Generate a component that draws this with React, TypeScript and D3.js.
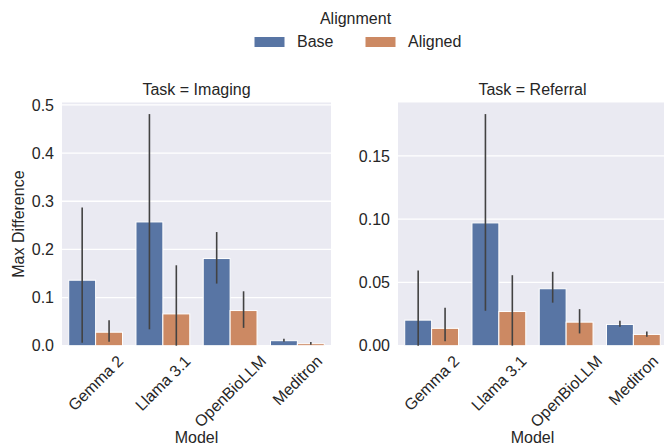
import React from "react";
import * as d3 from "d3";

const models = ["Gemma 2", "Llama 3.1", "OpenBioLLM", "Meditron"];
const hues = ["Base", "Aligned"];

const imagingBase = [0.136, 0.257, 0.181, 0.0104];
const imagingBaseLo = [0.006, 0.034, 0.129, 0.008];
const imagingBaseHi = [0.287, 0.481, 0.236, 0.0145];
const imagingAligned = [0.028, 0.066, 0.073, 0.0042];
const imagingAlignedLo = [0.008, 0.0, 0.037, 0.002];
const imagingAlignedHi = [0.053, 0.167, 0.113, 0.0077];

const referralBase = [0.0202, 0.097, 0.045, 0.0168];
const referralBaseLo = [0.0, 0.0276, 0.034, 0.015];
const referralBaseHi = [0.0594, 0.183, 0.0584, 0.0197];
const referralAligned = [0.0137, 0.027, 0.0186, 0.0089];
const referralAlignedLo = [0.0036, 0.0, 0.0097, 0.007];
const referralAlignedHi = [0.03, 0.0557, 0.0289, 0.0113];

const imagingTicks = [0, 0.1, 0.2, 0.3, 0.4, 0.5];
const referralTicks = [0, 0.05, 0.1, 0.15];

const FONT = "'Liberation Sans', Arial, 'DejaVu Sans', sans-serif";
const TEXT = "#262626";
const COLORS = ["#5875a4", "#cc8963"];
const FS = 16;

let ctx: CanvasRenderingContext2D | null = null;
function textWidth(s: string, size: number) {
  if (typeof document === "undefined") return s.length * size * 0.55;
  if (!ctx) ctx = document.createElement("canvas").getContext("2d");
  if (!ctx) return s.length * size * 0.55;
  ctx.font = `${size}px 'Liberation Sans', Arial, sans-serif`;
  return ctx.measureText(s).width;
}

type PanelProps = {
  x0: number;
  x1: number;
  title: string;
  base: number[];
  baseLo: number[];
  baseHi: number[];
  aligned: number[];
  alignedLo: number[];
  alignedHi: number[];
  ticks: number[];
  fmt: string;
  yLabel?: string;
};

const Y0 = 345.7;
const Y1 = 102.5;

function Panel(p: PanelProps) {
  const maxV = d3.max([...p.baseHi, ...p.alignedHi]) as number;
  const y = d3.scaleLinear().domain([0, maxV * 1.05]).range([Y0, Y1]);
  const x = d3
    .scaleBand<string>()
    .domain(models)
    .range([p.x0, p.x1])
    .paddingInner(0.2)
    .paddingOuter(0.1);
  const xh = d3.scaleBand<string>().domain(hues).range([0, x.bandwidth()]);
  const series = [
    { v: p.base, lo: p.baseLo, hi: p.baseHi },
    { v: p.aligned, lo: p.alignedLo, hi: p.alignedHi },
  ];
  const f = d3.format(p.fmt);
  const cx = (p.x0 + p.x1) / 2;
  const lh = FS * 1.15;
  return (
    <g>
      <rect x={p.x0} y={Y1} width={p.x1 - p.x0} height={Y0 - Y1} fill="#eaeaf2" />
      {p.ticks.map((t) => (
        <line key={t} x1={p.x0} x2={p.x1} y1={y(t)} y2={y(t)} stroke="#fff" strokeWidth={1.3} />
      ))}
      {models.map((m, i) =>
        series.map((s, j) => {
          const bx = (x(m) as number) + (xh(hues[j]) as number);
          const bw = xh.bandwidth();
          return (
            <rect
              key={m + j}
              x={bx}
              y={y(s.v[i])}
              width={bw}
              height={Y0 - y(s.v[i])}
              fill={COLORS[j]}
              stroke="#fff"
              strokeWidth={1}
            />
          );
        })
      )}
      {models.map((m, i) =>
        series.map((s, j) => {
          const ex = (x(m) as number) + (xh(hues[j]) as number) + xh.bandwidth() / 2;
          return (
            <line
              key={"e" + m + j}
              x1={ex}
              x2={ex}
              y1={y(s.lo[i])}
              y2={y(s.hi[i])}
              stroke="#424242"
              strokeWidth={1.6}
            />
          );
        })
      )}
      {p.ticks.map((t) => (
        <text
          key={"t" + t}
          x={p.x0 - 8}
          y={y(t)}
          dy="0.36em"
          textAnchor="end"
          fontSize={FS}
          fill={TEXT}
        >
          {f(t)}
        </text>
      ))}
      {models.map((m) => {
        const tx = (x(m) as number) + x.bandwidth() / 2;
        const L = textWidth(m, FS);
        const hh = ((L + lh) * Math.SQRT1_2) / 2;
        const cy = Y0 + 6 + hh;
        return (
          <text
            key={"x" + m}
            x={tx}
            y={cy}
            dy="0.35em"
            textAnchor="middle"
            fontSize={FS}
            fill={TEXT}
            transform={`rotate(-45, ${tx}, ${cy})`}
          >
            {m}
          </text>
        );
      })}
      <text x={cx} y={95} textAnchor="middle" fontSize={FS} fill={TEXT}>
        {p.title}
      </text>
      <text x={cx} y={443} textAnchor="middle" fontSize={FS} fill={TEXT}>
        Model
      </text>
      {p.yLabel && (
        <text
          x={24}
          y={(Y0 + Y1) / 2}
          textAnchor="middle"
          fontSize={FS}
          fill={TEXT}
          transform={`rotate(-90, 24, ${(Y0 + Y1) / 2})`}
        >
          {p.yLabel}
        </text>
      )}
    </g>
  );
}

export default function App() {
  return (
    <svg
      width={664}
      height={448}
      style={{ position: "absolute", left: 0, top: 0, background: "#fff" }}
      fontFamily={FONT}
    >
      <rect width={664} height={448} fill="#fff" />
      <Panel
        x0={62}
        x1={331}
        title="Task = Imaging"
        base={imagingBase}
        baseLo={imagingBaseLo}
        baseHi={imagingBaseHi}
        aligned={imagingAligned}
        alignedLo={imagingAlignedLo}
        alignedHi={imagingAlignedHi}
        ticks={imagingTicks}
        fmt=".1f"
        yLabel="Max Difference"
      />
      <Panel
        x0={398}
        x1={667}
        title="Task = Referral"
        base={referralBase}
        baseLo={referralBaseLo}
        baseHi={referralBaseHi}
        aligned={referralAligned}
        alignedLo={referralAlignedLo}
        alignedHi={referralAlignedHi}
        ticks={referralTicks}
        fmt=".2f"
      />
      <g>
        <text x={355.5} y={24} textAnchor="middle" fontSize={FS} fill={TEXT}>
          Alignment
        </text>
        {hues.map((h, i) => {
          const lx = [254, 365][i];
          return (
            <g key={h}>
              <rect x={lx} y={36.5} width={31} height={11} fill={COLORS[i]} stroke="#fff" strokeWidth={1} />
              <text x={lx + 43} y={47} fontSize={FS} fill={TEXT}>
                {h}
              </text>
            </g>
          );
        })}
      </g>
    </svg>
  );
}
